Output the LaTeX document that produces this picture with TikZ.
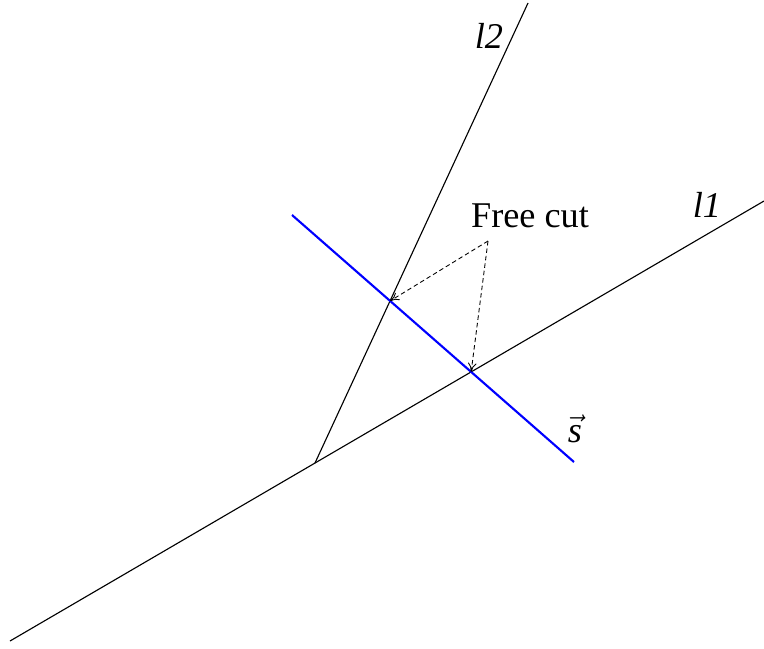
\documentclass[tikz,border=0pt]{standalone}
\usepackage{fontspec}
\setmainfont{Liberation Serif}
\usetikzlibrary{arrows.meta}
\tikzset{
  ray/.style={line width=0.45pt},
  cutline/.style={blue, line width=0.85pt},
  hint/.style={dash pattern=on 1.8pt off 1.2pt, line width=0.35pt, -{To[length=3.6pt,width=3.4pt]}},
  lbl/.style={font=\fontsize{14.5}{17}\selectfont, inner sep=0pt},
}
\begin{document}
\begin{tikzpicture}[x=0.4pt, y=-0.4pt]
  \useasboundingbox (0,0) rectangle (764,648);
  % the two lines
  \coordinate (o) at (315,463);
  \coordinate (a1) at (10,641);
  \coordinate (b1) at (764,201);
  \coordinate (b2) at (528,3);
  \draw[ray] (a1) -- (b1);
  \draw[ray] (o) -- (b2);
  \node[lbl] (l2) at (489,36) {\textit{l2}};
  \node[lbl] (l1) at (707,205) {\textit{l1}};
  % the cut
  \coordinate (c0) at (292,215);
  \coordinate (c1) at (574,462);
  \draw[cutline] (c0) -- (c1);
  \node[lbl] (s) at (575,429) {$\vec{\textit{s}}$};
  \coordinate (p1) at (intersection of a1--b1 and c0--c1);
  \coordinate (p2) at (intersection of o--b2 and c0--c1);
  % free cut points
  \node[lbl] (fc) at (530,216) {Free cut};
  \coordinate (fc0) at (488,241);
  \draw[hint] (fc0) -- (p2);
  \draw[hint] (fc0) -- (p1);
\end{tikzpicture}
\end{document}
